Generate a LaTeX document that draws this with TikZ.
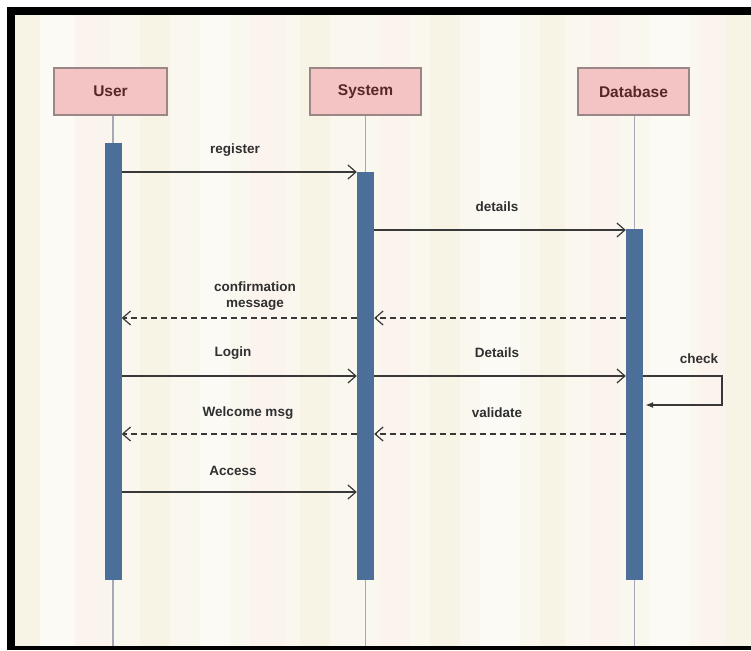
\documentclass[tikz,border=0pt]{standalone}
\usepackage{fontspec}
\setmainfont{Liberation Sans}
\usetikzlibrary{arrows.meta,calc}
\definecolor{boxfill}{HTML}{F4C3C3}
\definecolor{boxdraw}{HTML}{9A8686}
\definecolor{boxtext}{HTML}{552828}
\definecolor{barfill}{HTML}{4B6F98}
\definecolor{lifeline}{HTML}{A6A8B8}
\definecolor{msgcol}{HTML}{383838}
\definecolor{labcol}{HTML}{303030}
\definecolor{creamA}{HTML}{FAF7EE}
\definecolor{creamB}{HTML}{F7F4E6}
\definecolor{creamC}{HTML}{FBF3EE}
\definecolor{creamD}{HTML}{FBFAF5}
\tikzset{
  actor/.style={draw=boxdraw, line width=1.2pt, fill=boxfill, minimum height=47pt, inner sep=0pt,
    font=\fontsize{15.5}{18}\selectfont\bfseries, text=boxtext},
  actbar/.style={draw=none, fill=barfill, minimum width=17pt, inner sep=0pt},
  lline/.style={draw=lifeline, line width=1.2pt},
  msg/.style={draw=msgcol, line width=1.4pt, -{Straight Barb[length=8pt,width=14pt,line width=1.2pt]}},
  reply/.style={msg, dash pattern=on 6pt off 4pt},
  selfmsg/.style={draw=msgcol, line width=1.4pt, -{Latex[length=8pt,width=6pt]}},
  lab/.style={font=\fontsize{13.5}{15.5}\selectfont\bfseries, text=labcol, inner sep=0pt, align=center},
}
\begin{document}
\begin{tikzpicture}[x=1pt,y=-1pt]
\useasboundingbox (0,0) rectangle (751,650);
\fill[white] (0,0) rectangle (751,650);
\fill[black] (7,7) rectangle (751,650);
% striped background
\fill[creamA] (15,15) rectangle (751,646);
\foreach \xa/\xb/\c in {15/40/creamB,40/75/creamD,75/110/creamC,140/170/creamB,200/230/creamD,
  250/285/creamC,300/330/creamB,380/410/creamC,430/460/creamB,480/520/creamD,540/565/creamB,
  590/620/creamC,650/690/creamD,700/725/creamC,725/751/creamB}{
  \fill[\c] (\xa,15) rectangle (\xb,646);
}
% actors
\node[actor, minimum width=113pt] (user) at (110.5,91.5) {User};
\node[actor, minimum width=111pt] (sys) at (365.5,91.5) {System};
\node[actor, minimum width=111pt] (db) at (633.5,91.5) {Database};
% lifeline ends
\coordinate (uend) at (113,646);
\coordinate (send) at (365.5,646);
\coordinate (dend) at (634.5,646);
\draw[lline] (user.south -| uend) -- (uend);
\draw[lline] (sys.south -| send) -- (send);
\draw[lline] (db.south -| dend) -- (dend);
% activation bars
\node[actbar, minimum height=437pt] (ubar) at (113,361.5) {};
\node[actbar, minimum height=408pt] (sbar) at (365.5,376) {};
\node[actbar, minimum height=351pt] (dbar) at (634.5,404.5) {};
% message levels
\coordinate (y1) at (0,172);
\coordinate (y2) at (0,230);
\coordinate (y3) at (0,318);
\coordinate (y4) at (0,376);
\coordinate (y5) at (0,434);
\coordinate (y6) at (0,492);
\coordinate (yc) at (0,405);
\coordinate (cx) at (722,0);
% messages
\draw[msg] (ubar.east |- y1) -- (sbar.west |- y1);
\draw[msg] (sbar.east |- y2) -- (dbar.west |- y2);
\draw[reply] (dbar.west |- y3) -- (sbar.east |- y3);
\draw[reply] (sbar.west |- y3) -- (ubar.east |- y3);
\draw[msg] (ubar.east |- y4) -- (sbar.west |- y4);
\draw[msg] (sbar.east |- y4) -- (dbar.west |- y4);
\draw[selfmsg] (dbar.east |- y4) -- (cx |- y4) -- (cx |- yc) -- ($(dbar.east |- yc)+(2,0)$);
\draw[reply] (sbar.west |- y5) -- (ubar.east |- y5);
\draw[reply] (dbar.west |- y5) -- (sbar.east |- y5);
\draw[msg] (ubar.east |- y6) -- (sbar.west |- y6);
% labels
\node[lab] (l1) at (235,150) {register};
\node[lab] (l2) at (497,207) {details};
\node[lab] (l3) at (255,296) {confirmation\\message};
\node[lab] (l4) at (233,353) {Login};
\node[lab] (l5) at (497,353) {Details};
\node[lab] (l6) at (699,359) {check};
\node[lab] (l7) at (248,413) {Welcome msg};
\node[lab] (l8) at (497,413) {validate};
\node[lab] (l9) at (233,471) {Access};
\end{tikzpicture}
\end{document}
